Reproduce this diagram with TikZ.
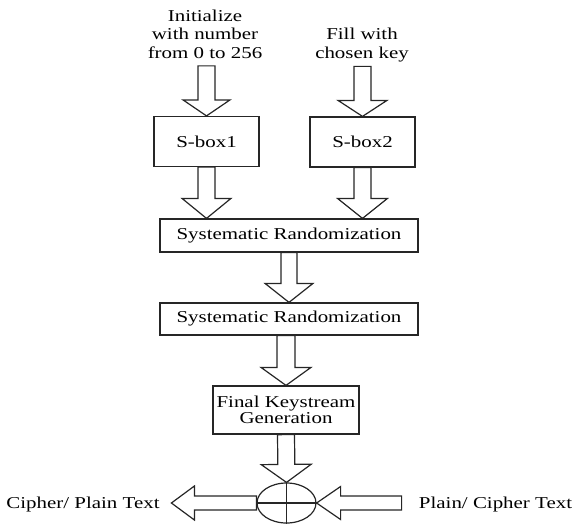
\documentclass[tikz,border=0pt]{standalone}
\usepackage{fontspec}
\setmainfont{Liberation Serif}[FakeStretch=1.26]
\usetikzlibrary{calc,shapes.geometric,positioning}

% block arrow: from, to, shaft half width, head half width, head length
\newcommand{\blockarrow}[5]{%
  \coordinate (hb) at ($(#2)!#5!(#1)$);
  \draw[block] ($(#1)!#3!90:(#2)$) -- ($(hb)!#3!90:(#2)$) -- ($(hb)!#4!90:(#2)$) -- (#2)
    -- ($(hb)!#4!-90:(#2)$) -- ($(hb)!#3!-90:(#2)$) -- ($(#1)!#3!-90:(#2)$) -- cycle;
}

\begin{document}
\begin{tikzpicture}[x=0.5pt,y=-0.5pt,font=\fontsize{8.3}{9.25}\selectfont]
  % Colors
  \colorlet{linecolor}{black!85}

  % Styles
  \tikzstyle{textlabel}=[align=center,inner sep=0pt]
  \tikzstyle{stage}=[draw=linecolor,line width=0.6pt,inner sep=0pt,align=center]
  \tikzstyle{block}=[draw=linecolor,line width=0.6pt,fill=white,line join=miter]

  \useasboundingbox (0,0) rectangle (577,524);

  % Inputs
  \node[textlabel] (init) at (205,34) {Initialize\\with number\\from 0 to 256};
  \node[textlabel] (fill) at (362,45) {Fill with\\chosen key};

  % Stages
  \node[stage,minimum width=52.5pt,minimum height=25pt] (sbox1) at (206.5,141.5) {S-box1};
  \node[stage,minimum width=52.5pt,minimum height=25pt] (sbox2) at (362.5,142) {S-box2};
  \node[stage,minimum width=129pt,minimum height=16.5pt] (sr1) at (289,235.5) {Systematic Randomization};
  \node[stage,minimum width=129pt,minimum height=16pt] (sr2) at (289,319) {Systematic Randomization};
  \node[stage,minimum width=73pt,minimum height=24pt,font=\fontsize{8.3}{8}\selectfont] (final) at (286,410) {Final Keystream\\Generation};
  \node[draw=linecolor,line width=0.6pt,ellipse,inner sep=0pt,minimum width=29.5pt,minimum height=20pt] (xor) at (286.5,503) {};

  % Outputs
  \node[textlabel] (cipher) at (83,505) {Cipher/ Plain Text};
  \node[textlabel] (plain) at (495.5,505) {Plain/ Cipher Text};

  % The arrows
  \path (sbox1.north) ++(0,-50) coordinate (in1);
  \path (sbox2.north) ++(0,-50) coordinate (in2);
  \blockarrow{in1}{sbox1.north}{4.25pt}{11.75pt}{8pt}
  \blockarrow{in2}{sbox2.north}{4.25pt}{12.25pt}{8pt}

  \coordinate (j1) at (sbox1.south |- sr1.north);
  \coordinate (j2) at (sbox2.south |- sr1.north);
  \blockarrow{sbox1.south}{j1}{4.25pt}{12.25pt}{10pt}
  \blockarrow{sbox2.south}{j2}{4.25pt}{12.5pt}{10pt}

  \blockarrow{sr1.south}{sr2.north}{4pt}{12pt}{9.5pt}

  \coordinate (j3) at (final.north |- sr2.south);
  \blockarrow{j3}{final.north}{4.5pt}{12.5pt}{9pt}
  \blockarrow{final.south}{xor.north}{4.25pt}{12.5pt}{9pt}

  \path (xor.west) ++(-85,0) coordinate (outtip);
  \path (xor.east) ++(85,0) coordinate (intail);
  \blockarrow{xor.west}{outtip}{3.5pt}{8.5pt}{11.5pt}
  \blockarrow{intail}{xor.east}{3.5pt}{8.25pt}{12pt}

  \draw[linecolor,line width=0.6pt] (xor.north) -- (xor.south) (xor.west) -- (xor.east);
\end{tikzpicture}
\end{document}
